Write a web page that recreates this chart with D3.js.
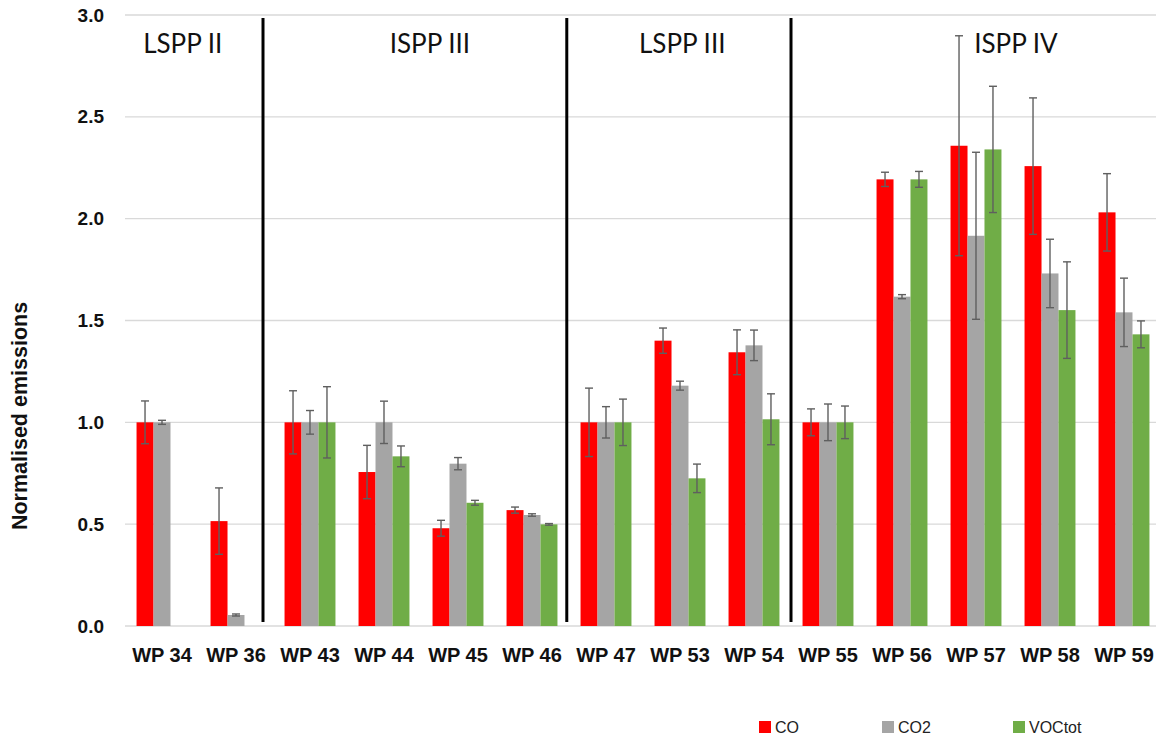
<!DOCTYPE html>
<html>
<head>
<meta charset="utf-8">
<script src="https://cdn.jsdelivr.net/npm/d3@7"></script>
<style>
  html, body { margin: 0; padding: 0; background: #ffffff; }
  svg { display: block; }
</style>
</head>
<body>
<svg id="chart" width="1156" height="735"></svg>
<script>
// Wood pellet samples along the x axis
const categories = ["WP 34", "WP 36", "WP 43", "WP 44", "WP 45", "WP 46", "WP 47",
                    "WP 53", "WP 54", "WP 55", "WP 56", "WP 57", "WP 58", "WP 59"];
const seriesNames = ["CO", "CO2", "VOCtot"];

// Normalised emission means per sample (null = not measured)
const coValues   = [1.00, 0.515, 1.00, 0.756, 0.480, 0.569, 1.00, 1.401, 1.344, 1.00, 2.193, 2.358, 2.258, 2.031];
const co2Values  = [1.00, 0.054, 1.00, 1.00, 0.797, 0.545, 1.00, 1.180, 1.378, 1.00, 1.617, 1.916, 1.731, 1.540];
const vocValues  = [null, null, 1.00, 0.833, 0.605, 0.499, 1.00, 0.725, 1.015, 1.00, 2.193, 2.340, 1.551, 1.432];

// Standard deviations (error bar half-lengths)
const coErrors   = [0.105, 0.163, 0.155, 0.131, 0.039, 0.015, 0.168, 0.062, 0.110, 0.066, 0.035, 0.540, 0.335, 0.190];
const co2Errors  = [0.010, 0.005, 0.058, 0.104, 0.030, 0.006, 0.077, 0.022, 0.075, 0.090, 0.010, 0.410, 0.168, 0.168];
const vocErrors  = [null, null, 0.175, 0.051, 0.012, 0.004, 0.114, 0.070, 0.125, 0.080, 0.039, 0.310, 0.237, 0.066];

// Y axis ticks
const yTicks = [0, 0.5, 1.0, 1.5, 2.0, 2.5, 3.0];

// Plant groups: label and its centre / right boundary expressed in sample-index units
const groupLabels = ["LSPP II", "ISPP III", "LSPP III", "ISPP IV"];
const groupLabelIndex = [0.78, 4.12, 7.53, 12.04];
const groupDividerIndex = [1.865, 5.97, 9.0];

const seriesColors = ["#ff0000", "#a5a5a5", "#70ad47"];

const svg = d3.select("#chart");
const margin = { left: 125, top: 15, bottom: 626 };
const plotRight = 1161;

const x = d3.scaleBand().domain(categories).range([margin.left, plotRight]).padding(0);
const xSub = d3.scaleBand().domain(seriesNames).range([0, x.bandwidth()])
  .paddingInner(0).paddingOuter(0.68);
const y = d3.scaleLinear().domain([0, 3]).range([margin.bottom, margin.top]);
// index-based position (for group labels / dividers)
const xi = d3.scaleLinear().domain([0, categories.length]).range([margin.left, plotRight]);

// Gridlines
svg.append("g")
  .selectAll("line")
  .data(yTicks)
  .join("line")
  .attr("x1", margin.left)
  .attr("x2", plotRight)
  .attr("y1", d => y(d))
  .attr("y2", d => y(d))
  .attr("stroke", "#d9d9d9")
  .attr("stroke-width", 1.4);

// Y axis tick labels
const yAxis = d3.axisLeft(y).tickValues(yTicks).tickFormat(d3.format(".1f")).tickSize(0).tickPadding(21);
const yAxisG = svg.append("g").attr("transform", `translate(${margin.left},0)`).call(yAxis);
yAxisG.select(".domain").remove();
yAxisG.selectAll("text")
  .attr("font-family", "'Liberation Sans', Arial, sans-serif")
  .attr("font-weight", "bold")
  .attr("font-size", 19)
  .attr("fill", "#111");

// X axis category labels
const xAxis = d3.axisBottom(x).tickSize(0).tickPadding(22);
const xAxisG = svg.append("g").attr("transform", `translate(0,${margin.bottom})`).call(xAxis);
xAxisG.select(".domain").remove();
xAxisG.selectAll("text")
  .attr("font-family", "'Liberation Sans', Arial, sans-serif")
  .attr("font-weight", "bold")
  .attr("font-size", 20)
  .attr("fill", "#111");

// Y axis title
svg.append("text")
  .attr("transform", `translate(27,416) rotate(-90)`)
  .attr("text-anchor", "middle")
  .attr("font-family", "'Liberation Sans', Arial, sans-serif")
  .attr("font-weight", "bold")
  .attr("font-size", 21.5)
  .attr("fill", "#111")
  .text("Normalised emissions");

// Build table of bars
const valueSets = [coValues, co2Values, vocValues];
const errorSets = [coErrors, co2Errors, vocErrors];
const bars = [];
categories.forEach((cat, i) => {
  seriesNames.forEach((s, j) => {
    const v = valueSets[j][i];
    if (v === null) return;
    bars.push({ cat, series: s, idx: j, value: v, err: errorSets[j][i] });
  });
});

// Bars
svg.append("g")
  .selectAll("rect")
  .data(bars)
  .join("rect")
  .attr("x", d => x(d.cat) + xSub(d.series))
  .attr("width", xSub.bandwidth())
  .attr("y", d => y(d.value))
  .attr("height", d => y(0) - y(d.value))
  .attr("fill", d => seriesColors[d.idx]);

// Error bars
const errColor = "#5f5f5f";
const capHalf = 4;
const eg = svg.append("g").attr("stroke", errColor).attr("stroke-width", 1.4);
const errBars = bars.filter(d => d.err !== null);
eg.selectAll("line.stem")
  .data(errBars)
  .join("line")
  .attr("class", "stem")
  .attr("x1", d => x(d.cat) + xSub(d.series) + xSub.bandwidth() / 2)
  .attr("x2", d => x(d.cat) + xSub(d.series) + xSub.bandwidth() / 2)
  .attr("y1", d => y(d.value + d.err))
  .attr("y2", d => y(d.value - d.err));
["top", "bot"].forEach(side => {
  eg.selectAll("line.cap-" + side)
    .data(errBars)
    .join("line")
    .attr("class", "cap-" + side)
    .attr("x1", d => x(d.cat) + xSub(d.series) + xSub.bandwidth() / 2 - capHalf)
    .attr("x2", d => x(d.cat) + xSub(d.series) + xSub.bandwidth() / 2 + capHalf)
    .attr("y1", d => y(side === "top" ? d.value + d.err : d.value - d.err))
    .attr("y2", d => y(side === "top" ? d.value + d.err : d.value - d.err));
});

// Group dividers
svg.append("g")
  .selectAll("line")
  .data(groupDividerIndex)
  .join("line")
  .attr("x1", d => xi(d))
  .attr("x2", d => xi(d))
  .attr("y1", 18)
  .attr("y2", 622)
  .attr("stroke", "#000")
  .attr("stroke-width", 3);

// Group labels
svg.append("g")
  .selectAll("text")
  .data(groupLabels)
  .join("text")
  .attr("x", (d, i) => xi(groupLabelIndex[i]))
  .attr("y", 53)
  .attr("text-anchor", "middle")
  .attr("font-family", "Lato, 'Liberation Sans', sans-serif")
  .attr("font-size", 26)
  .attr("fill", "#111")
  .text(d => d);

// Legend
const legendX = [759, 882, 1013];
const legend = svg.append("g");
seriesNames.forEach((s, i) => {
  legend.append("rect")
    .attr("x", legendX[i]).attr("y", 721)
    .attr("width", 12).attr("height", 12)
    .attr("fill", seriesColors[i]);
  legend.append("text")
    .attr("x", legendX[i] + 16).attr("y", 733)
    .attr("font-family", "'Liberation Sans', Arial, sans-serif")
    .attr("font-size", 16)
    .attr("fill", "#222")
    .text(s);
});
</script>
</body>
</html>
